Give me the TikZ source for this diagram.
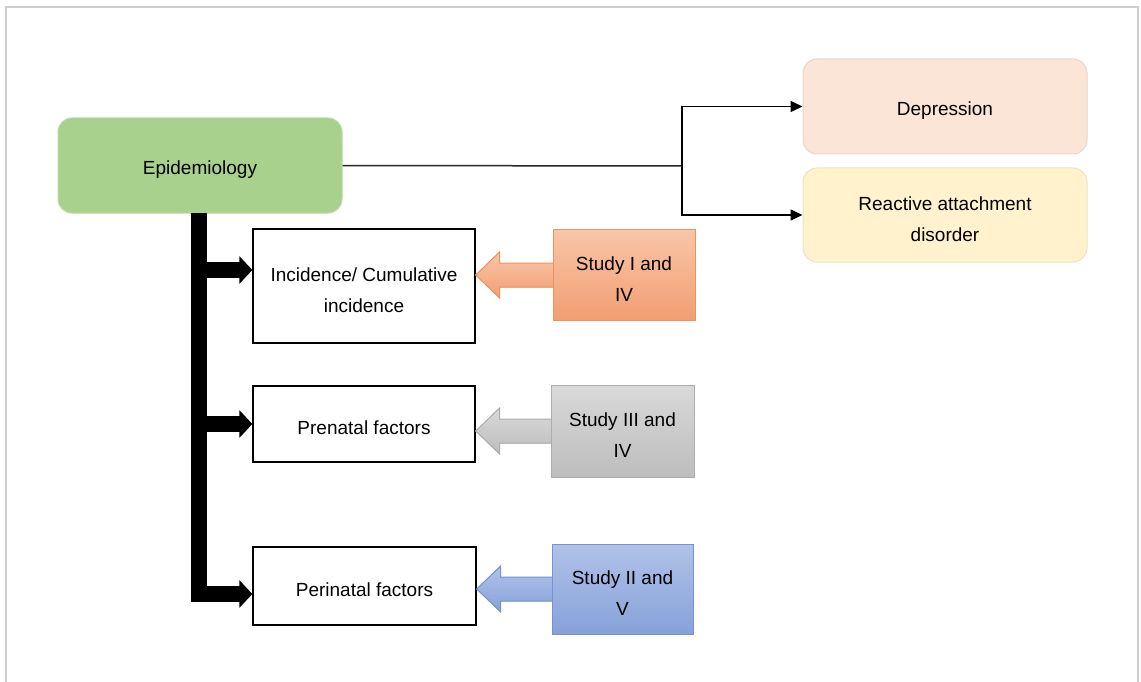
\documentclass[tikz,border=0pt]{standalone}
\usepackage{fontspec}
\setmainfont{Liberation Sans}
\usetikzlibrary{arrows.meta,calc}
\definecolor{frame}{HTML}{CFCFCF}
\definecolor{epifill}{HTML}{A9D18E}
\definecolor{epiline}{HTML}{B9DAA2}
\definecolor{depfill}{HTML}{FBE5D6}
\definecolor{depline}{HTML}{E6D6CB}
\definecolor{radfill}{HTML}{FFF2CC}
\definecolor{radline}{HTML}{EDE3C4}
\definecolor{oTop}{HTML}{F8C6A8}
\definecolor{oBot}{HTML}{F29E72}
\definecolor{oLine}{HTML}{EE915A}
\definecolor{gTop}{HTML}{D9D9D9}
\definecolor{gBot}{HTML}{BDBDBD}
\definecolor{gLine}{HTML}{ADADAD}
\definecolor{bTop}{HTML}{B0C2E8}
\definecolor{bBot}{HTML}{87A1D9}
\definecolor{bLine}{HTML}{7592D2}
\newcommand\txtdown{\rule{0pt}{22pt}}
\begin{document}
\begin{tikzpicture}[x=1pt,y=-1pt,
  txt/.style={font=\fontsize{19}{31}\selectfont, align=center, text=black},
  roundbox/.style={txt, rounded corners=14pt, line width=1pt, inner sep=0pt},
  plainbox/.style={txt, draw=black, line width=1.3pt, fill=white, inner sep=0pt},
  studybox/.style={txt, line width=1pt, inner sep=0pt},
  thin arrow/.style={line width=1.5pt, -{Triangle[length=12pt,width=11pt]}},
  thick bar/.style={line width=16pt, line join=miter},
  thick arrow/.style={line width=16pt, -{Triangle[length=13pt,width=27pt]}}
]
\useasboundingbox (0,0) rectangle (1141,682);
% frame
\draw[frame, line width=2.5pt] (6,682) -- (6,7) -- (1138,7) -- (1138,682);

% top-level nodes
\node[roundbox, fill=epifill, draw=epiline, minimum width=284pt, minimum height=95pt] (epi) at (200,165.5) {\txtdown Epidemiology};
\node[roundbox, fill=depfill, draw=depline, minimum width=284pt, minimum height=95pt] (dep) at (945,106.5) {\txtdown Depression};
\node[roundbox, fill=radfill, draw=radline, minimum width=284pt, minimum height=94pt] (rad) at (945,215) {\txtdown Reactive attachment\\disorder};

% left boxes
\node[plainbox, minimum width=222pt, minimum height=114pt] (inc) at (364,286) {\txtdown Incidence/ Cumulative\\incidence};
\node[plainbox, minimum width=222pt, minimum height=76pt] (pre) at (364,424) {\txtdown Prenatal factors};
\node[plainbox, minimum width=223pt, minimum height=78pt] (peri) at (364.5,586) {\txtdown Perinatal factors};

% fork to right
\coordinate (fork) at (682,166);
\draw[line width=1.5pt, black!85] (epi.east) -- (fork);
\draw[thin arrow, line join=miter] (fork) |- (dep.west);
\draw[thin arrow, line join=miter] (fork) |- (rad.west);

% thick trunk and branches
\coordinate (top) at (199,213);
\coordinate (j1) at (199,270);
\coordinate (j2) at (199,424);
\coordinate (j3) at (199,594);
\draw[thick bar] (top) -- (j3);
\draw[thick arrow] (j1) -- (j1 -| inc.west);
\draw[thick arrow] (j2) -- (j2 -| pre.west);
\draw[thick arrow] ($(j3)+(-8,0)$) -- (j3 -| peri.west);

% study boxes positions
\coordinate (c1) at (624,275);
\coordinate (c3) at (622.5,431);
\coordinate (c2) at (622.5,589);

% block arrows (drawn under the study boxes)
\newcommand\blockarr[4]{%
  \coordinate (t) at (#1.east |- #2);
  \filldraw[draw=#3, top color=#4Top, bottom color=#4Bot, line width=1pt, line join=miter]
    (t) -- ($(t)+(24,-23)$) -- ($(t)+(24,-12)$) -- ($(#2)+(-60,-12)$)
    -- ($(#2)+(-60,12)$) -- ($(t)+(24,12)$) -- ($(t)+(24,23)$) -- cycle;
}
\blockarr{inc}{c1}{oLine}{o}
\blockarr{pre}{c3}{gLine}{g}
\blockarr{peri}{c2}{bLine}{b}

\node[studybox, draw=oLine, top color=oTop, bottom color=oBot, minimum width=142pt, minimum height=91pt] (s1) at (c1) {\txtdown Study I and\\IV};
\node[studybox, draw=gLine, top color=gTop, bottom color=gBot, minimum width=143pt, minimum height=92pt] (s3) at (c3) {\txtdown Study III and\\IV};
\node[studybox, draw=bLine, top color=bTop, bottom color=bBot, minimum width=141pt, minimum height=90pt] (s2) at (c2) {\txtdown Study II and\\V};
\end{tikzpicture}
\end{document}
